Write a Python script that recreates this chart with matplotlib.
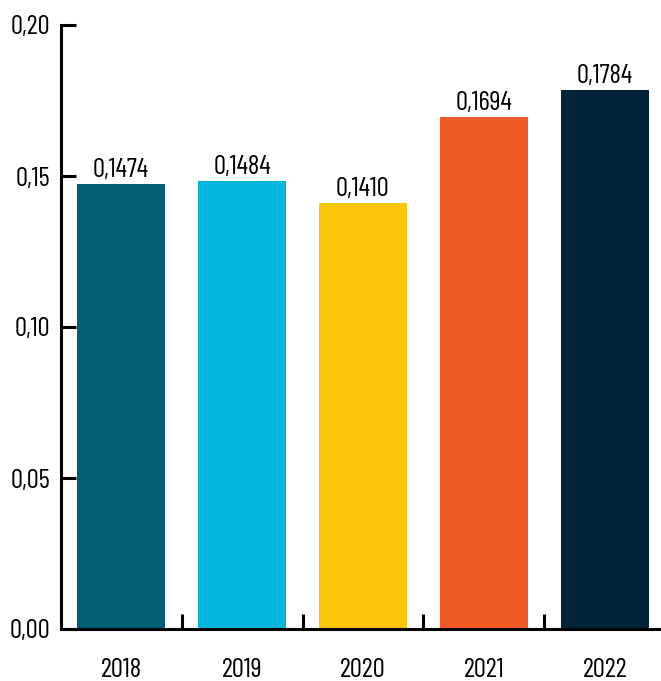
import matplotlib
matplotlib.use('Agg')
import matplotlib.pyplot as plt

years = ['2018', '2019', '2020', '2021', '2022']
values = [0.1474, 0.1484, 0.1410, 0.1694, 0.1784]
colors = ['#035e73', '#02b5de', '#fdc50c', '#f15a24', '#03253b']
yticks = [0.00, 0.05, 0.10, 0.15, 0.20]

plt.rcParams['font.family'] = ['Barlow Condensed', 'DejaVu Sans']
fs = 19.5

fig = plt.figure(figsize=(6.61, 6.81), dpi=100)
ax = fig.add_axes([61 / 661, 52 / 681, 1 - 61 / 661, (629 - 25) / 681])

x = list(range(len(years)))
ax.bar(x, values, width=0.727, color=colors)
for xi, v in zip(x, values):
    ax.annotate(f'{v:.4f}'.replace('.', ','), (xi, v), xytext=(0, 5),
                textcoords='offset points', ha='center', va='baseline', fontsize=fs)

ax.set_xlim(-0.496, 4.463)
ax.set_ylim(0, 0.2)

ax.set_yticks(yticks)
ax.set_yticklabels([f'{t:.2f}'.replace('.', ',') for t in yticks], fontsize=fs)
ax.set_xticks([0.5, 1.5, 2.5, 3.5])
ax.set_xticklabels([])
ax.set_xticks(x, minor=True)
ax.set_xticklabels(years, minor=True, fontsize=fs)

ax.tick_params(axis='y', direction='in', length=11, width=2.2, pad=8)
ax.tick_params(axis='x', which='major', direction='in', length=11, width=2.2)
ax.tick_params(axis='x', which='minor', length=0, pad=21)

for s in ['top', 'right']:
    ax.spines[s].set_visible(False)
ax.spines['left'].set_linewidth(2.2)
ax.spines['bottom'].set_linewidth(2.2)

fig.savefig('out.png', dpi=100)
